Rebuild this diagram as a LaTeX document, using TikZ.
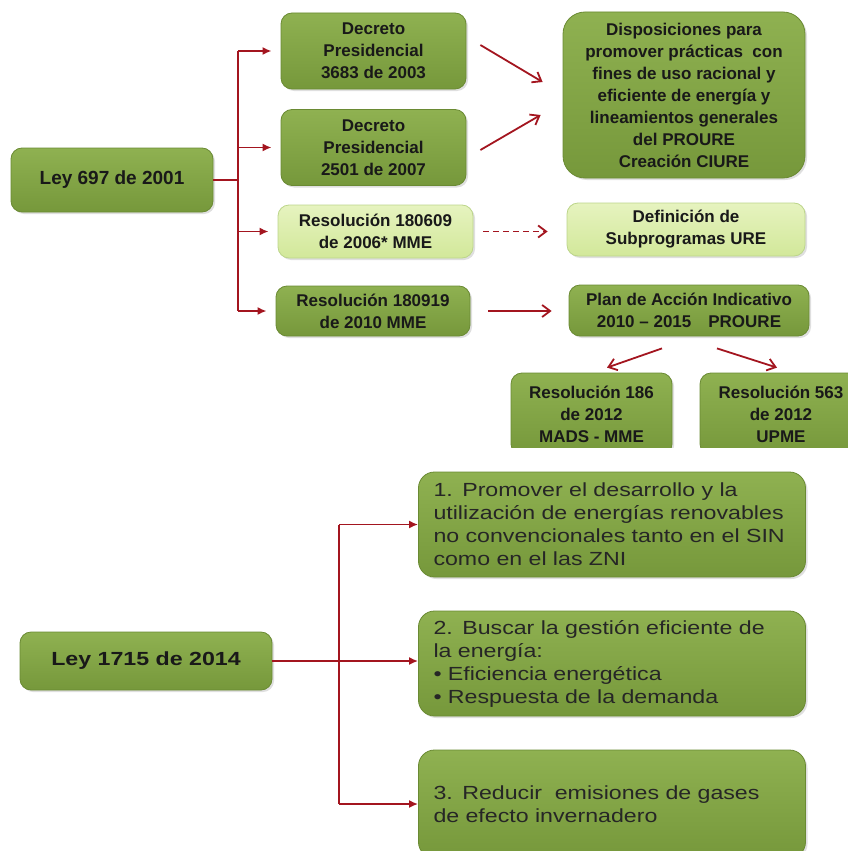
\documentclass[tikz,border=0pt]{standalone}
\usepackage{fontspec}
\setmainfont{Liberation Sans}
\newfontfamily\widefont[FakeStretch=1.22]{Liberation Sans}
\usetikzlibrary{arrows.meta,shadows,calc}

\definecolor{leafhi}{HTML}{8FB151}
\definecolor{leaflo}{HTML}{76983B}
\definecolor{leafrim}{HTML}{6A8A33}
\definecolor{palehi}{HTML}{E6F3BF}
\definecolor{palelo}{HTML}{D2E89A}
\definecolor{palerim}{HTML}{BCD58A}
\definecolor{wine}{HTML}{A3151F}

\tikzset{
  lawbox/.style={draw=leafrim, line width=0.8pt, rounded corners=11pt,
    top color=leafhi, bottom color=leaflo, inner sep=0pt, align=center,
    font=\fontsize{17}{22}\selectfont\bfseries, text=black!90,
    drop shadow={shadow xshift=2pt, shadow yshift=-2pt, opacity=0.25}},
  palebox/.style={lawbox, draw=palerim, top color=palehi, bottom color=palelo},
  goalbox/.style={lawbox, align=left, text width=357pt, inner xsep=15pt,
    font=\widefont\fontsize{19}{23}\selectfont, text=black!85,
    minimum height=105pt, rounded corners=16pt},
  branch/.style={draw=wine, line width=1.8pt},
  tip/.style={branch, -{Latex[length=9pt,width=8pt]}},
  pointer/.style={branch, -{Straight Barb[length=8pt,width=12pt]}},
}

\begin{document}
\begin{tikzpicture}[x=1pt,y=-1pt]
\clip (0,0) rectangle (848,851);

% Ley 697 de 2001
\node[lawbox, font=\fontsize{19}{22}\selectfont\bfseries, minimum width=202pt, minimum height=64pt] (ley697) at (112,180) {Ley 697 de 2001};
\node[lawbox, minimum width=185pt, minimum height=76pt] (dec3683) at (373.5,51) {Decreto\\Presidencial\\3683 de 2003};
\node[lawbox, minimum width=185pt, minimum height=76pt] (dec2501) at (373.5,147.5) {Decreto\\Presidencial\\2501 de 2007};
\node[palebox, minimum width=195pt, minimum height=53pt] (res180609) at (375.5,231.5) {Resolución 180609\\de 2006* MME};
\node[lawbox, minimum width=194pt, minimum height=50pt] (res180919) at (373,311) {Resolución 180919\\de 2010 MME};
\node[lawbox, minimum width=242pt, minimum height=166pt, rounded corners=22pt] (dispos) at (684,95) {Disposiciones para\\promover prácticas\ \ con\\fines de uso racional y\\eficiente de energía y\\lineamientos generales\\del PROURE\\Creación CIURE};
\node[palebox, minimum width=238pt, minimum height=53pt] (subprog) at (686,229.5) {Definición de\\Subprogramas URE};
\node[lawbox, minimum width=240pt, minimum height=51pt] (plan) at (689,310.5) {Plan de Acción Indicativo\\2010 \textendash\ 2015\quad PROURE};
\begin{scope}
\clip (0,0) rectangle (848,447);
\node[lawbox, minimum width=161pt, minimum height=82pt] (res186) at (591.5,414) {Resolución 186\\de 2012\\MADS - MME};
\node[lawbox, minimum width=162pt, minimum height=82pt] (res563) at (781,414) {Resolución 563\\de 2012\\UPME};
\end{scope}

\coordinate (spine) at (238,0);
\draw[branch] (ley697.east) -- (ley697.east -| spine);
\draw[branch] (dec3683.west -| spine) -- (res180919.west -| spine);
\foreach \n in {dec3683,dec2501,res180609,res180919}
  \draw[tip] (\n.west -| spine) -- ([xshift=-9pt]\n.west);

\draw[pointer] ($(dec3683.east)+(14,-6)$) -- ($(dispos.west)+(-20,-13)$);
\draw[pointer] ($(dec2501.east)+(14,2.5)$) -- ($(dispos.west)+(-22,20)$);
\draw[pointer, dash pattern=on 6pt off 4pt, shorten <=10pt, shorten >=19pt] (res180609.east) -- (res180609.east -| subprog.west);
\draw[pointer, shorten <=18pt, shorten >=17pt] (res180919.east) -- (res180919.east -| plan.west);
\draw[pointer] ($(plan.south)+(-27,12)$) -- ($(res186.north)+(15.5,-5)$);
\draw[pointer] ($(plan.south)+(28,12)$) -- ($(res563.north)+(-4,-5)$);

% Ley 1715 de 2014
\node[lawbox, font=\widefont\fontsize{19}{23}\selectfont\bfseries, minimum width=252pt, minimum height=58pt] (ley1715) at (146,661) {Ley 1715 de 2014};
\node[goalbox] (goal1) at (612,524.5) {1. Promover el desarrollo y la\\utilización de energías renovables\\no convencionales tanto en el SIN\\como en el las ZNI};
\node[goalbox] (goal2) at (612,663.5) {2. Buscar la gestión eficiente de\\la energía:\\\textbullet\ Eficiencia energética\\\textbullet\ Respuesta de la demanda};
\node[goalbox, minimum height=108pt] (goal3) at (612,804) {3. Reducir\ \ emisiones de gases\\de efecto invernadero};

\coordinate (trunk) at (339,0);
\draw[branch] (goal1.west -| trunk) -- (goal3.west -| trunk);
\draw[tip] (ley1715.east) -- (ley1715.east -| goal2.west);
\draw[tip] (goal1.west -| trunk) -- (goal1.west);
\draw[tip] (goal3.west -| trunk) -- (goal3.west);
\end{tikzpicture}
\end{document}
